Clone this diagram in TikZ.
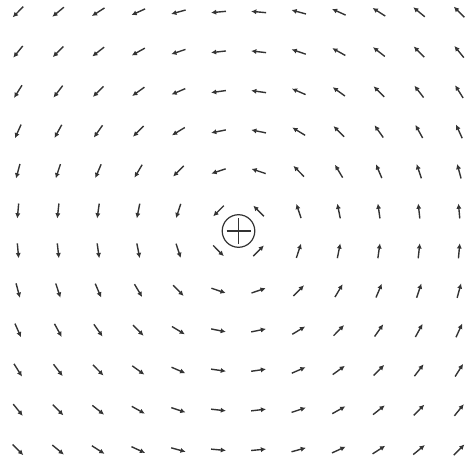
\documentclass[tikz,border=0pt]{standalone}
\usetikzlibrary{arrows.meta}
\tikzset{
  fieldarrow/.style={draw=black!80, line width=0.7pt, -{Latex[length=2.6pt,width=2.6pt]}},
  wire/.style={draw=black!80, line width=0.6pt}
}
\begin{document}
\begin{tikzpicture}[x=0.5pt,y=-0.5pt]
\useasboundingbox (0,0) rectangle (464,464);
\coordinate (c) at (238.5,231);
\foreach \i in {0,...,11}{
  \foreach \j in {0,...,11}{
    \pgfmathsetmacro{\px}{18+40.1*\i}
    \pgfmathsetmacro{\py}{12+39.8*\j}
    \pgfmathsetmacro{\dx}{\px-238.5}
    \pgfmathsetmacro{\dy}{\py-231}
    \pgfmathsetmacro{\rr}{veclen(\dx,\dy)}
    \pgfmathsetmacro{\ux}{\dy/\rr*7.5}
    \pgfmathsetmacro{\uy}{-\dx/\rr*7.5}
    \draw[fieldarrow] (\px-\ux,\py-\uy) -- (\px+\ux,\py+\uy);
  }
}
\node[wire, circle, minimum size=32.6pt*0.5, inner sep=0pt] (w) at (c) {};
\draw[wire] ([xshift=-6pt]c) -- ([xshift=6pt]c);
\draw[wire] ([yshift=-6.5pt]c) -- ([yshift=6.5pt]c);
\end{tikzpicture}
\end{document}
